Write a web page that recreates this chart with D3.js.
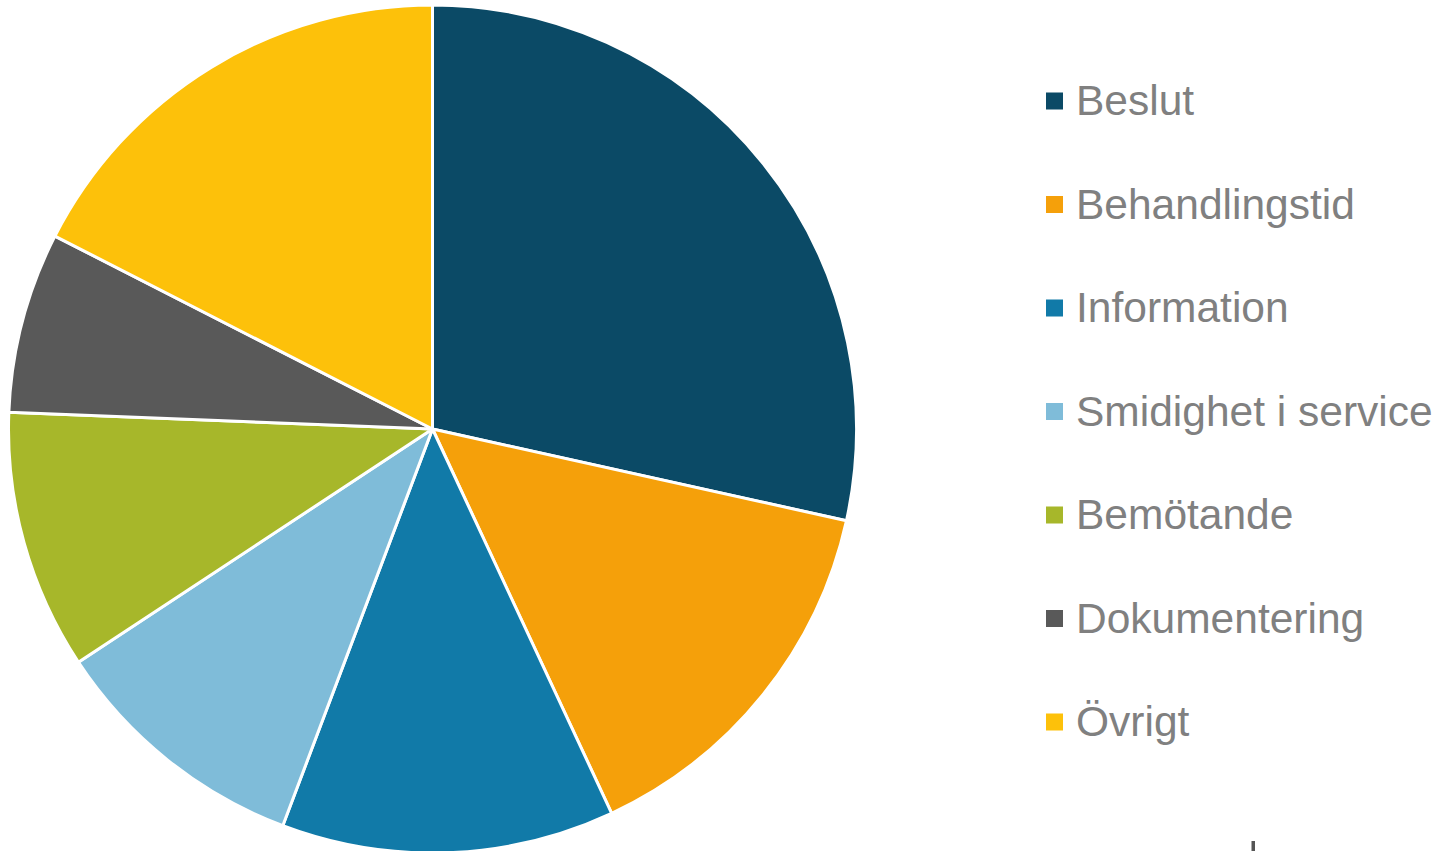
<!DOCTYPE html>
<html>
<head>
<meta charset="utf-8">
<script src="https://cdn.jsdelivr.net/npm/d3@7"></script>
<style>
  html, body { margin: 0; padding: 0; background: #fff; overflow: hidden; }
  svg { display: block; }
</style>
</head>
<body>
<svg id="chart" width="1443" height="851"></svg>
<script>
// Share of responses per category (percent)
const categories = ["Beslut", "Behandlingstid", "Information", "Smidighet i service", "Bemötande", "Dokumentering", "Övrigt"];
const shares = [28.5, 14.6, 12.7, 10.0, 9.9, 6.9, 17.5];
const colors = ["#0b4a66", "#f5a00a", "#117aa8", "#7fbcd9", "#a7b72a", "#595959", "#fdc10a"];

const svg = d3.select("#chart");
const cx = 432.5, cy = 429, radius = 424;

const data = categories.map((c, i) => ({ category: c, value: shares[i], color: colors[i] }));

const pie = d3.pie().sort(null).value(d => d.value).startAngle(0).endAngle(2 * Math.PI);
const arc = d3.arc().innerRadius(0).outerRadius(radius);

svg.append("g")
  .attr("transform", `translate(${cx},${cy})`)
  .selectAll("path")
  .data(pie(data))
  .join("path")
  .attr("d", arc)
  .attr("fill", d => d.data.color)
  .attr("stroke", "#fff")
  .attr("stroke-width", 3)
  .attr("stroke-linejoin", "round");

// Legend
const legendX = 1046, legendY0 = 101, legendStep = 103.5;
const legend = svg.append("g");
const rows = legend.selectAll("g")
  .data(data)
  .join("g")
  .attr("transform", (d, i) => `translate(${legendX},${legendY0 + i * legendStep})`);

rows.append("rect")
  .attr("x", 0).attr("y", -8.5)
  .attr("width", 17).attr("height", 17)
  .attr("fill", d => d.color);

rows.append("text")
  .attr("x", 30).attr("y", 14)
  .attr("font-family", "Liberation Sans, Arial, sans-serif")
  .attr("font-size", 42.5)
  .attr("fill", "#808080")
  .text(d => d.category);

// Small tick mark at the bottom edge
svg.append("rect")
  .attr("x", 1251.5).attr("y", 841)
  .attr("width", 3.5).attr("height", 10)
  .attr("fill", "#555");
</script>
</body>
</html>
